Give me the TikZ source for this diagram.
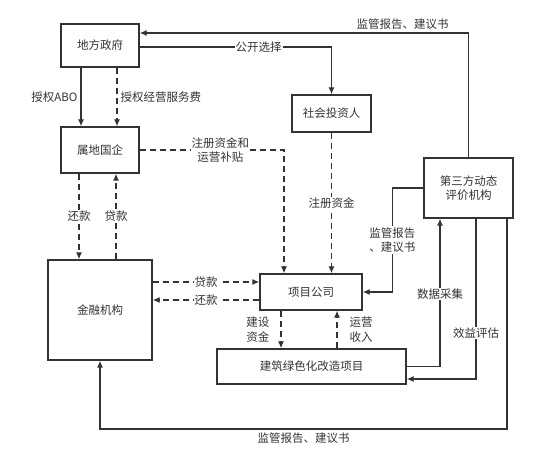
\documentclass[tikz,border=0pt]{standalone}
\usepackage{fontspec}
\setmainfont{Noto Sans CJK SC}
\usetikzlibrary{arrows.meta,calc}
\definecolor{ln}{HTML}{333333}
\begin{document}
\begin{tikzpicture}[x=1pt,y=-1pt,
  every node/.style={font=\fontsize{11.5}{14.5}\selectfont, text=ln},
  box/.style={draw=ln, line width=1.3pt, fill=white, align=center, inner sep=2pt},
  sol/.style={draw=ln, line width=1.3pt, -{Latex[length=7pt,width=6pt]}},
  dsh/.style={sol, dash pattern=on 6pt off 4pt},
  lbl/.style={fill=white, inner sep=1pt, align=center}]
\useasboundingbox (0,0) rectangle (533,462);
\node[box, minimum width=78pt, minimum height=43pt] (gov) at (100,45.5) {地方政府};
\node[box, minimum width=78pt, minimum height=46pt] (soe) at (100,150) {属地国企};
\node[box, minimum width=104pt, minimum height=100pt] (fin) at (100,310) {金融机构};
\node[box, minimum width=79pt, minimum height=37pt] (inv) at (331.5,113.5) {社会投资人};
\node[box, minimum width=102pt, minimum height=36pt] (proj) at (311,292) {项目公司};
\node[box, minimum width=89pt, minimum height=60pt] (third) at (468.5,188) {第三方动态\\评价机构};
\node[box, minimum width=189pt, minimum height=35pt] (build) at (311.5,366.5) {建筑绿色化改造项目};
\coordinate (botrow) at (0,429);

% government -> SOE
\draw[sol] ([xshift=-19pt]gov.south) -- ([xshift=-19pt]soe.north) node[midway,left=2pt, lbl] {授权ABO};
\draw[dsh] ([xshift=17pt]gov.south) -- ([xshift=17pt]soe.north) node[midway,right=2pt, lbl] {授权经营服务费};
% SOE <-> finance
\draw[dsh] ([xshift=-21pt]soe.south) -- ([xshift=-21pt]fin.north) node[midway, lbl] {还款};
\draw[dsh] ([xshift=16pt]fin.north) -- ([xshift=16pt]soe.south) node[midway, lbl] {贷款};
% SOE -> project company
\draw[dsh] (soe.east) -| ([xshift=-27pt]proj.north) node[pos=0.28, lbl] {注册资金和\\运营补贴};
% government -> investor
\draw[sol] ([yshift=-1.5pt]gov.east) -| (inv.north) node[pos=0.31, lbl] {公开选择};
% investor -> project company
\draw[dsh] (inv.south) -- (inv.south |- proj.north) node[midway, lbl] {注册资金};
% finance <-> project company
\path ([yshift=10pt]proj.west) coordinate (pl1) ([yshift=-8pt]proj.west) coordinate (pl2);
\draw[dsh] (pl1 -| fin.east) -- (pl1) node[midway, lbl] {贷款};
\draw[dsh] (pl2) -- (pl2 -| fin.east) node[midway, lbl] {还款};
% project company <-> building project
\draw[dsh] ([xshift=-30pt]proj.south) -- ([xshift=-30pt]proj.south |- build.north) node[midway, left=11pt, inner sep=0pt, align=left] {建设\\资金};
\draw[dsh] ([xshift=26pt]proj.south |- build.north) -- ([xshift=26pt]proj.south) node[midway, right=12pt, inner sep=0pt, align=left] {运营\\收入};
% third party -> project company
\draw[sol] (third.west) -- ++(-31,0) |- (proj.east) node[pos=0.25, lbl] {监管报告\\、建议书};
% building -> third party
\draw[sol] (build.east) -| ([xshift=-28.5pt]third.south) node[pos=0.745, lbl] {数据采集};
% third party -> building
\draw[sol] ([xshift=7.5pt]third.south) |- ([yshift=-12.5pt]build.east) node[pos=0.357, lbl] {效益评估};
% third party -> finance
\draw[sol] ([xshift=38.5pt]third.south) |- (fin.south |- botrow) node[pos=0.75, below=2pt, lbl] {监管报告、建议书} -- (fin.south);
% third party -> government
\draw[sol] (third.north) |- ([yshift=12.5pt]gov.east) node[pos=0.6, above=2pt, lbl] {监管报告、建议书};
\end{tikzpicture}
\end{document}
